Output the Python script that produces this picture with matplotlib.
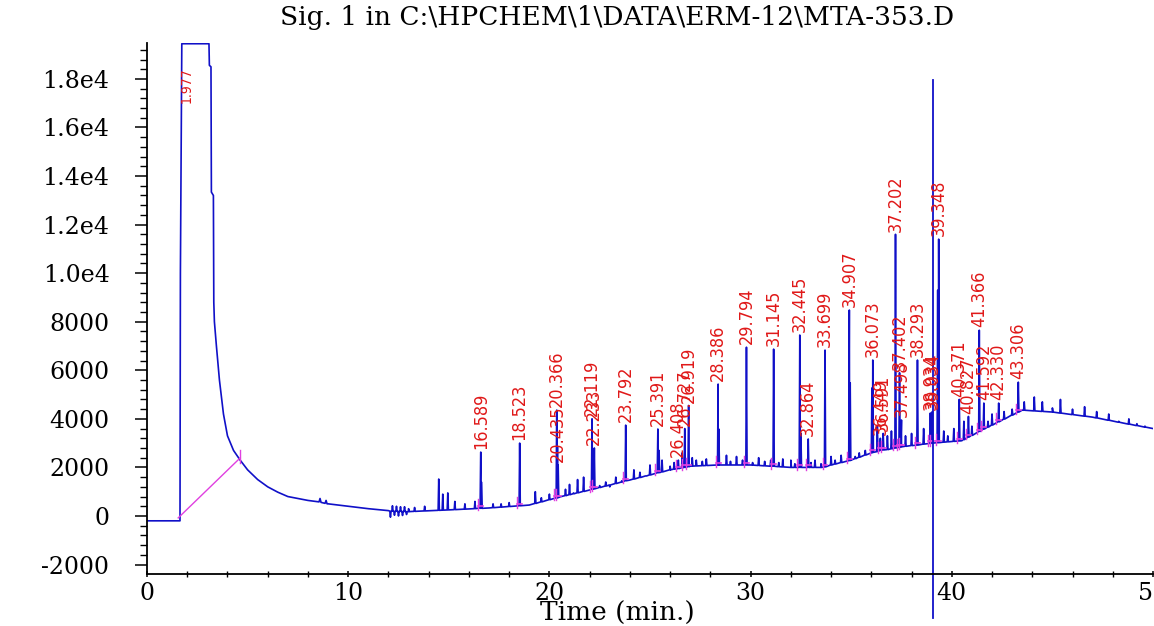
import numpy as np
import matplotlib.pyplot as plt

# solvent peak + its decaying tail (time min, signal)
solvent_t = [0.0, 1.64, 1.66, 1.73, 3.08, 3.10, 3.18, 3.20, 3.30, 3.32, 3.35, 3.45, 3.60,
             3.80, 4.00, 4.30, 4.63, 5.00, 5.50, 6.00, 6.50, 7.00, 8.00, 8.55, 8.60, 8.65,
             8.85, 8.90, 8.95, 9.00, 10.0, 11.0, 12.0]
solvent_v = [-200, -200, 10000, 19450, 19450, 18560, 18500, 13340, 13200, 8800, 8000, 7000,
             5600, 4200, 3300, 2700, 2300, 1900, 1500, 1200, 980, 800, 640, 580, 720, 560,
             520, 640, 500, 500, 400, 300, 220]

# slow baseline drift of the temperature programme
base_t = [12.0, 13.0, 15.0, 17.0, 19.0, 20.5, 22.0, 24.0, 26.0, 27.0, 28.4, 30.0, 32.0,
          33.5, 35.0, 36.0, 37.5, 39.0, 40.5, 41.5, 42.5, 43.5, 45.0, 47.0, 48.5, 50.0]
base_v = [200, 180, 250, 330, 450, 780, 1070, 1480, 1900, 2050, 2100, 2100, 2000,
          2000, 2300, 2600, 2850, 3000, 3100, 3540, 3950, 4360, 4280, 4070, 3830, 3600]

# integrated peaks: retention time, apex height, foot level
peak_rt = [16.589, 18.523, 20.366, 20.435, 22.119, 22.233, 23.792, 25.391, 26.408, 26.727,
           26.919, 28.386, 29.794, 31.145, 32.445, 32.864, 33.699, 34.907, 36.073, 36.449,
           36.591, 37.202, 37.402, 37.498, 38.293, 38.934, 39.034, 39.348, 40.371, 40.827,
           41.366, 41.592, 42.330, 43.306]
peak_h = [2630, 3000, 4360, 2100, 4000, 2800, 3740, 3580, 2300, 3600,
          4550, 5430, 6950, 6870, 7450, 3170, 6830, 8480, 6420, 3200,
          3400, 11600, 5900, 3950, 6420, 4240, 4300, 11400, 4800, 4100,
          7650, 4650, 4650, 5510]
peak_foot = [330, 420, 750, 760, 1100, 1120, 1450, 1780, 1950, 2000,
             2030, 2100, 2100, 2050, 2000, 2000, 2020, 2280, 2620, 2700,
             2720, 2800, 2830, 2850, 2920, 2990, 3000, 3020, 3090, 3250,
             3480, 3580, 3880, 4280]
solvent_rt = 1.977

# small unlabeled spikes / shoulders seen on the trace
minor_t = [12.1, 12.2, 12.3, 12.4, 12.5, 12.6, 12.7, 12.8, 12.9, 13.0, 13.3, 13.8, 14.5,
           14.7, 14.95, 15.3, 15.8, 16.3, 16.62, 17.2, 17.6, 18.0, 19.3, 19.6, 20.0, 20.4,
           20.8, 21.0, 21.2, 21.4, 21.7, 22.17, 22.5, 22.8, 23.0, 23.3, 23.6, 24.2, 24.5,
           24.8, 25.0, 25.45, 25.6, 26.0, 26.2, 26.6, 27.1, 27.3, 27.6, 27.8, 28.42, 28.8,
           29.0, 29.3, 29.6, 30.1, 30.4, 30.7, 31.0, 31.4, 31.6, 32.0, 32.2, 32.5, 33.0,
           33.2, 33.5, 34.0, 34.2, 34.5, 34.95, 35.2, 35.4, 35.7, 36.03, 36.3, 36.8, 37.0,
           37.7, 38.0, 38.6, 39.3, 39.6, 39.8, 40.1, 40.6, 41.0, 41.8, 42.0, 42.6, 43.0,
           43.6, 44.1, 44.5, 45.0, 45.4, 46.0, 46.6, 47.2, 47.8, 48.3, 48.8, 49.2, 49.6]
minor_v = [-50, 420, 30, 400, 0, 380, 20, 380, 60, 300, 350, 400, 1520,
           900, 950, 600, 500, 600, 1400, 500, 500, 550, 1000, 750, 900, 2840,
           1100, 1300, 950, 1500, 1600, 2630, 1250, 1400, 1200, 1600, 1450, 1900, 1800,
           1650, 2100, 2700, 2300, 2050, 2200, 2600, 2400, 2300, 2250, 2350, 3580, 2500,
           2250, 2450, 2300, 2200, 2400, 2250, 2300, 2200, 2350, 2300, 2150, 3400, 2200,
           2300, 2150, 2450, 2300, 2500, 5480, 2450, 2600, 2700, 5270, 3700, 3300, 3500,
           3300, 3400, 3600, 9300, 3500, 3300, 3600, 3900, 3700, 3900, 4200, 4300, 4400,
           4700, 4900, 4700, 4450, 4800, 4400, 4500, 4300, 4200, 3900, 4000, 3800, 3700]

cursor_t = 39.05
cursor_v = [-4200, 17940]

BLUE = '#1010c8'
MAGENTA = '#e040e0'
RED = '#e01818'

# build the trace: baseline knots plus narrow spikes
pts = list(zip(base_t, base_v))
w = 0.03
for t, h, f in zip(peak_rt, peak_h, peak_foot):
    pts += [(t - w, f), (t, h), (t + w, f)]
for t, h in zip(minor_t, minor_v):
    f = np.interp(t, base_t, base_v)
    pts += [(t - w, f), (t, h), (t + w, f)]
pts.sort()
trace_t = list(solvent_t) + [p[0] for p in pts if p[0] > solvent_t[-1]]
trace_v = list(solvent_v) + [p[1] for p in pts if p[0] > solvent_t[-1]]

fig = plt.figure(figsize=(11.54, 6.26), dpi=100)
ax = fig.add_axes([147 / 1154, 1 - 574 / 626, 1006 / 1154, 531 / 626])

ax.plot(trace_t, trace_v, color=BLUE, lw=1.2)
ax.plot([1.55, 4.63], [-80, 2390], color=MAGENTA, lw=1.0)
ax.plot([4.63, 4.63], [2200, 2700], color=MAGENTA, lw=1.0)
for t, f in zip(peak_rt, peak_foot):
    ax.plot([t - 0.12, t + 0.12], [f + 80, f + 80], color=MAGENTA, lw=1.2)
    ax.plot([t - 0.12, t - 0.12], [f - 100, f + 350], color=MAGENTA, lw=1.0)
ax.plot([cursor_t, cursor_t], cursor_v, color=BLUE, lw=1.3, clip_on=False)

for t, h in zip(peak_rt, peak_h):
    ax.annotate(f"{t:.3f}", (t, h), xytext=(0, 2), textcoords='offset points',
                rotation=90, ha='center', va='bottom', color=RED,
                fontsize=13, family='DejaVu Sans', fontstretch='condensed')
ax.annotate(f"{solvent_rt:.3f}", (solvent_rt, 17000), rotation=90, ha='center',
            va='bottom', color=RED, fontsize=10, family='DejaVu Sans',
            fontstretch='condensed')

ax.set_xlim(0, 49.93)
ax.set_ylim(-2390, 19480)
ax.set_xticks([0, 10, 20, 30, 40, 50])
ax.set_xticks(np.arange(0, 51, 2), minor=True)
ax.set_yticks(np.arange(-2000, 18001, 2000))
ax.set_yticks(np.arange(-2000, 19401, 400), minor=True)
ax.set_yticklabels(['-2000', '0', '2000', '4000', '6000', '8000', '1.0e4',
                    '1.2e4', '1.4e4', '1.6e4', '1.8e4'])
for s in ['top', 'right']:
    ax.spines[s].set_visible(False)
for s in ['left', 'bottom']:
    ax.spines[s].set_linewidth(1.3)
ax.tick_params(axis='y', which='major', length=9, width=1.1, pad=18,
               labelsize=17, labelfontfamily='DejaVu Serif')
ax.tick_params(axis='y', which='minor', length=5, width=1.0)
ax.tick_params(axis='x', which='major', length=5, width=1.1, direction='inout',
               pad=3, labelsize=17, labelfontfamily='DejaVu Serif')
ax.tick_params(axis='x', which='minor', length=5, width=1.0, direction='inout')

fig.text(617 / 1154, 1 - 17 / 626, r"Sig. 1 in C:\HPCHEM\1\DATA\ERM-12\MTA-353.D",
         ha='center', va='center', fontsize=19, family='DejaVu Serif')
fig.text(617 / 1154, 1 - 613 / 626, "Time (min.)", ha='center', va='center',
         fontsize=19, family='DejaVu Serif')

fig.savefig('out.png', dpi=100)
